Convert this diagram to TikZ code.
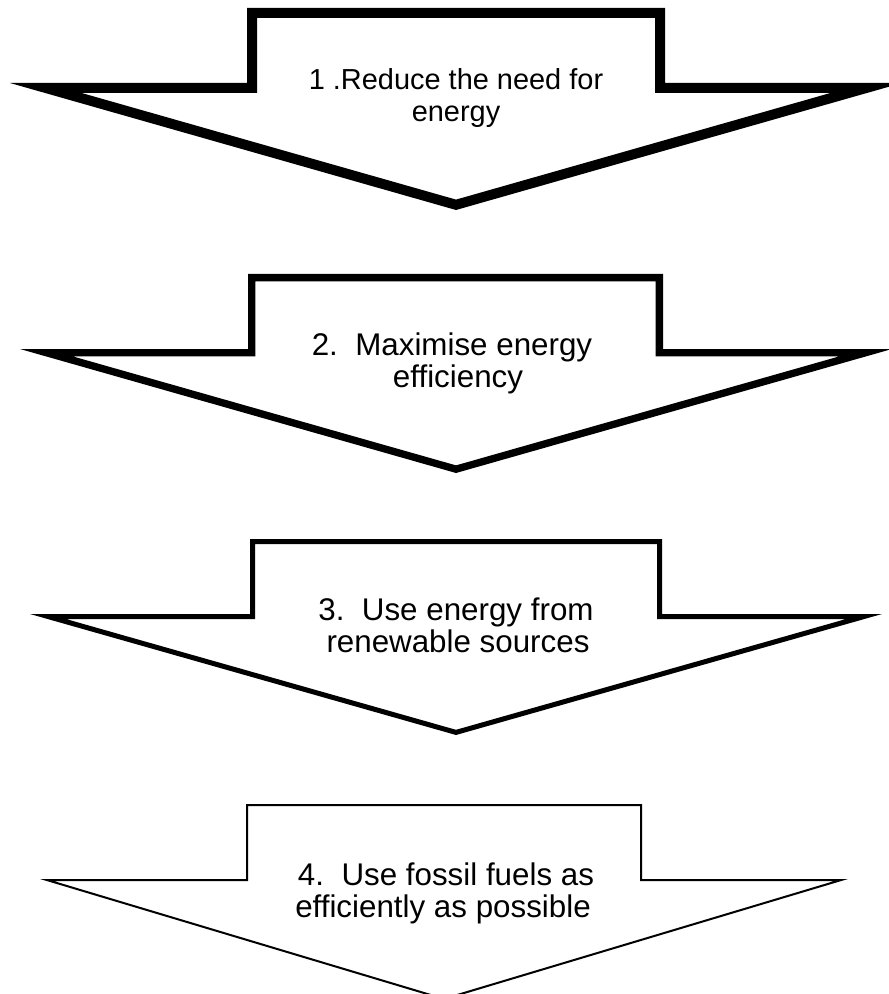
\documentclass[tikz,border=0pt]{standalone}
\usepackage{fontspec}
\setmainfont{Liberation Sans}

% Block arrow pointing down, stroked on the inside of its outline.
% #1 left tip x, #2 shoulder y, #3 stem left x, #4 stem top y,
% #5 stem right x, #6 right tip x, #7 point x, #8 point y, #9 line width (twice the visible stroke)
\newcommand{\blockarrow}[9]{%
  \begin{scope}
    \clip (#1,#2) -- (#3,#2) -- (#3,#4) -- (#5,#4) -- (#5,#2) -- (#6,#2) -- (#7,#8) -- cycle;
    \draw[arrowline, line width=#9] (#1,#2) -- (#3,#2) -- (#3,#4) -- (#5,#4) -- (#5,#2) -- (#6,#2) -- (#7,#8) -- cycle;
  \end{scope}}

\tikzset{
  label/.style={font=\fontsize{21.7pt}{24pt}\selectfont, inner sep=0pt, anchor=base, text=black},
  biglabel/.style={label, font=\fontsize{23.5pt}{26pt}\selectfont},
  arrowline/.style={draw=black, line join=miter}
}

\begin{document}
\begin{tikzpicture}[x=0.75pt, y=-0.75pt]
  \useasboundingbox[fill=white] (0,0) rectangle (888,994);

  % 1
  \blockarrow{10}{83}{247}{8}{665}{902}{456}{210}{15pt}
  \node[label] (t1a) at (456,90)  {1 .Reduce the need for};
  \node[label] (t1b) at (456,122) {energy};

  % 2
  \blockarrow{20}{349}{248}{274}{663}{892}{456}{473}{11pt}
  \node[biglabel] (t2a) at (452,355) {2.~~Maximise energy};
  \node[biglabel] (t2b) at (458,387) {efficiency};

  % 3
  \blockarrow{30}{614}{250}{539}{662}{882}{456}{735}{7.5pt}
  \node[biglabel] (t3a) at (456,620) {3.~~Use energy from};
  \node[biglabel] (t3b) at (458,652) {renewable sources};

  % 4
  \blockarrow{40}{879}{246}{804}{642}{848}{444}{1000}{3pt}
  \node[biglabel] (t4a) at (446,885) {4.~~Use fossil fuels as};
  \node[biglabel] (t4b) at (443,917) {efficiently as possible};
\end{tikzpicture}
\end{document}
